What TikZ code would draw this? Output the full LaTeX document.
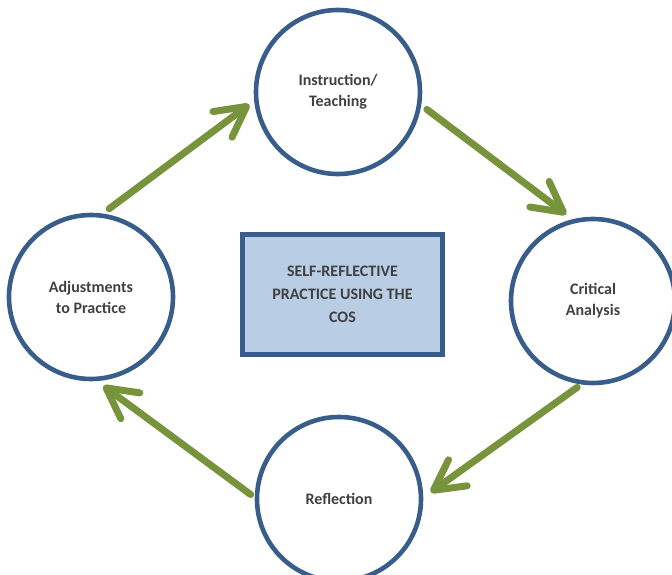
\documentclass[tikz,border=0pt]{standalone}
\usepackage{fontspec}
\setmainfont{Carlito}
\usepackage{xcolor}
\usepackage{tikz}
\usetikzlibrary{arrows.meta}
\usetikzlibrary{positioning}
\definecolor{ringblue}{HTML}{385D8A}
\definecolor{boxblue}{HTML}{B9CDE5}
\definecolor{cyclegreen}{HTML}{77933C}
\definecolor{labelgray}{HTML}{404040}

\begin{document}
\begin{tikzpicture}[
x=1pt, y=-1pt,
StageCircles/.style={circle,draw=ringblue,line width=4.6pt,minimum size=164pt,inner sep=0pt,
  align=center,text=labelgray,font=\fontsize{16}{21}\selectfont\bfseries},
CenterBox/.style={rectangle,draw=ringblue,fill=boxblue,line width=5pt,minimum width=200pt,
  minimum height=120pt,align=center,text=labelgray,font=\fontsize{16}{23}\selectfont\bfseries},
CycleArrows/.style={draw=cyclegreen,line width=7pt,line cap=round,
  -{Straight Barb[length=30pt,width=32pt,round]}}
]
\useasboundingbox (0,0) rectangle (672,575);
\clip (0,0) rectangle (672,575);

% the four stages
\node[StageCircles] (teach) at (338,92) {Instruction/\\Teaching};
\node[StageCircles] (analysis) at (593,301) {Critical\\Analysis};
\node[StageCircles] (reflect) at (339,499) {Reflection};
\node[StageCircles] (adjust) at (91,297) {Adjustments\\to Practice};

\node[CenterBox] (core) at (342.5,294.5) {SELF-REFLECTIVE\\PRACTICE USING THE\\COS};

% cycle
\draw[CycleArrows, shorten <=8pt, shorten >=6pt] (adjust.82) -- (teach.186);
\draw[CycleArrows, shorten <=7pt, shorten >=8pt] (teach.-9) -- (analysis.104);
\draw[CycleArrows, shorten <=5pt, shorten >=9pt] (analysis.262) -- (reflect.1);
\draw[CycleArrows, shorten <=5pt, shorten >=8pt] (reflect.179) -- (adjust.-86);

\end{tikzpicture}
\end{document}
